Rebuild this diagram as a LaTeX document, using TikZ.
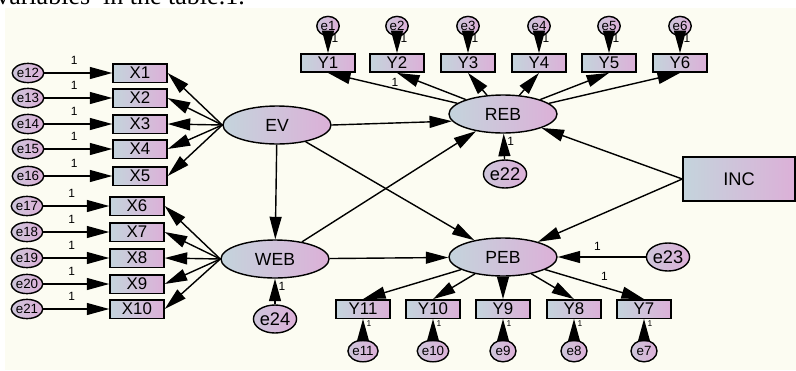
\documentclass[tikz,border=0pt]{standalone}
\usepackage{fontspec}
\setmainfont{Liberation Sans}
\newfontfamily\textoserif{Liberation Serif}
\usetikzlibrary{arrows.meta,shapes.geometric}
\definecolor{amosazul}{RGB}{196,212,220}
\definecolor{amosrosa}{RGB}{220,176,216}
\definecolor{amospapel}{RGB}{252,252,242}

\begin{document}
\begin{tikzpicture}[x=0.25mm, y=-0.25mm,
        latente/.style={shape=ellipse, draw=black, line width=1pt, left color=amosazul, right color=amosrosa, minimum width=27mm, minimum height=9.5mm, font=\fontsize{12.5}{12.5}\selectfont},
        observada/.style={shape=rectangle, draw=black, line width=1pt, left color=amosazul, right color=amosrosa, minimum width=13.5mm, minimum height=4.6mm, inner sep=0pt, font=\fontsize{12}{12}\selectfont},
        erro/.style={shape=ellipse, draw=black, line width=1pt, left color=amosazul!60!amosrosa, right color=amosrosa, minimum width=6.5mm, minimum height=4.8mm, inner sep=0pt, font=\fontsize{9.5}{9.5}\selectfont},
        errogrande/.style={erro, minimum width=10mm, minimum height=7mm, font=\fontsize{13}{13}\selectfont},
        seta/.style={line width=1pt, -{Triangle[length=16pt, width=8.5pt]}},
        peso/.style={font=\fontsize{8.5}{8.5}\selectfont, inner sep=0pt},
        pesinho/.style={font=\fontsize{6}{6}\selectfont, inner sep=0pt},
    ]
    \useasboundingbox (0,0) rectangle (796,370);
    \fill[amospapel] (5,8) rectangle (796,370);
    \node[anchor=base west, inner sep=0pt, font=\textoserif\fontsize{18.5}{20}\selectfont] (legenda) at (-4,4) {variables\ \ in the table.1.};

    % latentes
    \node[latente] (ev) at (277, 125) {EV};
    \node[latente] (web) at (275, 259) {WEB};
    \node[latente] (reb) at (503, 114) {REB};
    \node[latente] (peb) at (503, 257) {PEB};
    \node[observada, minimum width=28mm, minimum height=11mm, font=\fontsize{13}{13}\selectfont] (inc) at (739, 179) {INC};

    \node[errogrande] (e22) at (505, 174) {e22};
    \node[errogrande] (e23) at (668, 257) {e23};
    \node[errogrande] (e24) at (275, 319) {e24};

    % indicadores de EV
    \node[observada] (x1) at (140, 73) {X1};
    \node[observada] (x2) at (140, 98) {X2};
    \node[observada] (x3) at (140, 124) {X3};
    \node[observada] (x4) at (140, 149) {X4};
    \node[observada] (x5) at (140, 176) {X5};
    \node[erro] (e12) at (28, 73) {e12};
    \node[erro] (e13) at (28, 98) {e13};
    \node[erro] (e14) at (28, 124) {e14};
    \node[erro] (e15) at (28, 149) {e15};
    \node[erro] (e16) at (28, 176) {e16};

    % indicadores de WEB
    \node[observada] (x6) at (137, 206) {X6};
    \node[observada] (x7) at (137, 232) {X7};
    \node[observada] (x8) at (137, 258) {X8};
    \node[observada] (x9) at (137, 284) {X9};
    \node[observada] (x10) at (137, 309) {X10};
    \node[erro] (e17) at (27, 206) {e17};
    \node[erro] (e18) at (27, 232) {e18};
    \node[erro] (e19) at (27, 258) {e19};
    \node[erro] (e20) at (27, 284) {e20};
    \node[erro] (e21) at (27, 309) {e21};

    % indicadores de REB
    \node[observada] (y1) at (328, 63) {Y1};
    \node[observada] (y2) at (397, 63) {Y2};
    \node[observada] (y3) at (468, 63) {Y3};
    \node[observada] (y4) at (539, 63) {Y4};
    \node[observada] (y5) at (609, 63) {Y5};
    \node[observada] (y6) at (680, 63) {Y6};
    \node[erro, minimum width=5.6mm] (e1) at (328, 26) {e1};
    \node[erro, minimum width=5.6mm] (e2) at (397, 26) {e2};
    \node[erro, minimum width=5.6mm] (e3) at (468, 26) {e3};
    \node[erro, minimum width=5.6mm] (e4) at (539, 26) {e4};
    \node[erro, minimum width=5.6mm] (e5) at (609, 26) {e5};
    \node[erro, minimum width=5.6mm] (e6) at (680, 26) {e6};

    % indicadores de PEB
    \node[observada] (y11) at (363, 309) {Y11};
    \node[observada] (y10) at (433, 309) {Y10};
    \node[observada] (y9) at (503, 309) {Y9};
    \node[observada] (y8) at (574, 309) {Y8};
    \node[observada] (y7) at (644, 309) {Y7};
    \node[erro, minimum height=5.4mm] (e11) at (363, 351) {e11};
    \node[erro, minimum height=5.4mm] (e10) at (433, 351) {e10};
    \node[erro, minimum height=5.4mm] (e9) at (503, 351) {e9};
    \node[erro, minimum height=5.4mm] (e8) at (574, 351) {e8};
    \node[erro, minimum height=5.4mm] (e7) at (644, 351) {e7};

    \draw[seta] (e12) -- (x1) node[peso, pos=0.44, above=5.5pt] {1};
    \draw[seta] (e13) -- (x2) node[peso, pos=0.44, above=5.5pt] {1};
    \draw[seta] (e14) -- (x3) node[peso, pos=0.44, above=5.5pt] {1};
    \draw[seta] (e15) -- (x4) node[peso, pos=0.44, above=5.5pt] {1};
    \draw[seta] (e16) -- (x5) node[peso, pos=0.44, above=5.5pt] {1};
    \draw[seta] (ev.west) -- (x1.east);
    \draw[seta] (ev.west) -- (x2.east);
    \draw[seta] (ev.west) -- (x3.east);
    \draw[seta] (ev.west) -- (x4.east);
    \draw[seta] (ev.west) -- (x5.east);

    \draw[seta] (e17) -- (x6) node[peso, pos=0.43, above=5.5pt] {1};
    \draw[seta] (e18) -- (x7) node[peso, pos=0.43, above=5.5pt] {1};
    \draw[seta] (e19) -- (x8) node[peso, pos=0.43, above=5.5pt] {1};
    \draw[seta] (e20) -- (x9) node[peso, pos=0.43, above=5.5pt] {1};
    \draw[seta] (e21) -- (x10) node[peso, pos=0.43, above=5.5pt] {1};
    \draw[seta] (web.west) -- (x6.east);
    \draw[seta] (web.west) -- (x7.east);
    \draw[seta] (web.west) -- (x8.east);
    \draw[seta] (web.west) -- (x9.east);
    \draw[seta] (web.west) -- (x10.east);

    \draw[seta] (e1) -- (y1) node[peso, pos=0.1, right=2pt] {1};
    \draw[seta] (e2) -- (y2) node[peso, pos=0.1, right=2pt] {1};
    \draw[seta] (e3) -- (y3) node[peso, pos=0.1, right=2pt] {1};
    \draw[seta] (e4) -- (y4) node[peso, pos=0.1, right=2pt] {1};
    \draw[seta] (e5) -- (y5) node[peso, pos=0.1, right=2pt] {1};
    \draw[seta] (e6) -- (y6) node[peso, pos=0.1, right=2pt] {1};
    \draw[seta] (reb) -- (y1.south);
    \draw[seta] (reb) -- (y2.south) node[peso, pos=0.93, below left=2pt] {1};
    \draw[seta] (reb) -- (y3.south);
    \draw[seta] (reb) -- (y4.south);
    \draw[seta] (reb) -- (y5.south);
    \draw[seta] (reb) -- (y6.south);

    \draw[seta] (e11) -- (y11) node[pesinho, pos=0.75, right=2pt] {1};
    \draw[seta] (e10) -- (y10) node[pesinho, pos=0.75, right=2pt] {1};
    \draw[seta] (e9) -- (y9) node[pesinho, pos=0.75, right=2pt] {1};
    \draw[seta] (e8) -- (y8) node[pesinho, pos=0.75, right=2pt] {1};
    \draw[seta] (e7) -- (y7) node[pesinho, pos=0.75, right=2pt] {1};
    \draw[seta] (peb) -- (y11.north);
    \draw[seta] (peb) -- (y10.north);
    \draw[seta] (peb) -- (y9.north);
    \draw[seta] (peb) -- (y8.north);
    \draw[seta] (peb) -- (y7.north) node[peso, pos=0.6, above=4pt] {1};

    \draw[seta] (ev.east) -- (reb.188);
    \draw[seta] (ev) -- (web);
    \draw[seta] (ev) -- (peb);
    \draw[seta] (web) -- (reb);
    \draw[seta] (web) -- (peb);
    \draw[seta] (inc.west) -- (reb);
    \draw[seta] (inc.west) -- (peb);
    \draw[seta] (e22) -- (reb) node[peso, pos=0.7, right=2pt] {1};
    \draw[seta] (e23) -- (peb) node[peso, pos=0.55, above=4pt] {1};
    \draw[seta] (e24) -- (web) node[peso, pos=0.7, right=2pt] {1};

\end{tikzpicture}
\end{document}
